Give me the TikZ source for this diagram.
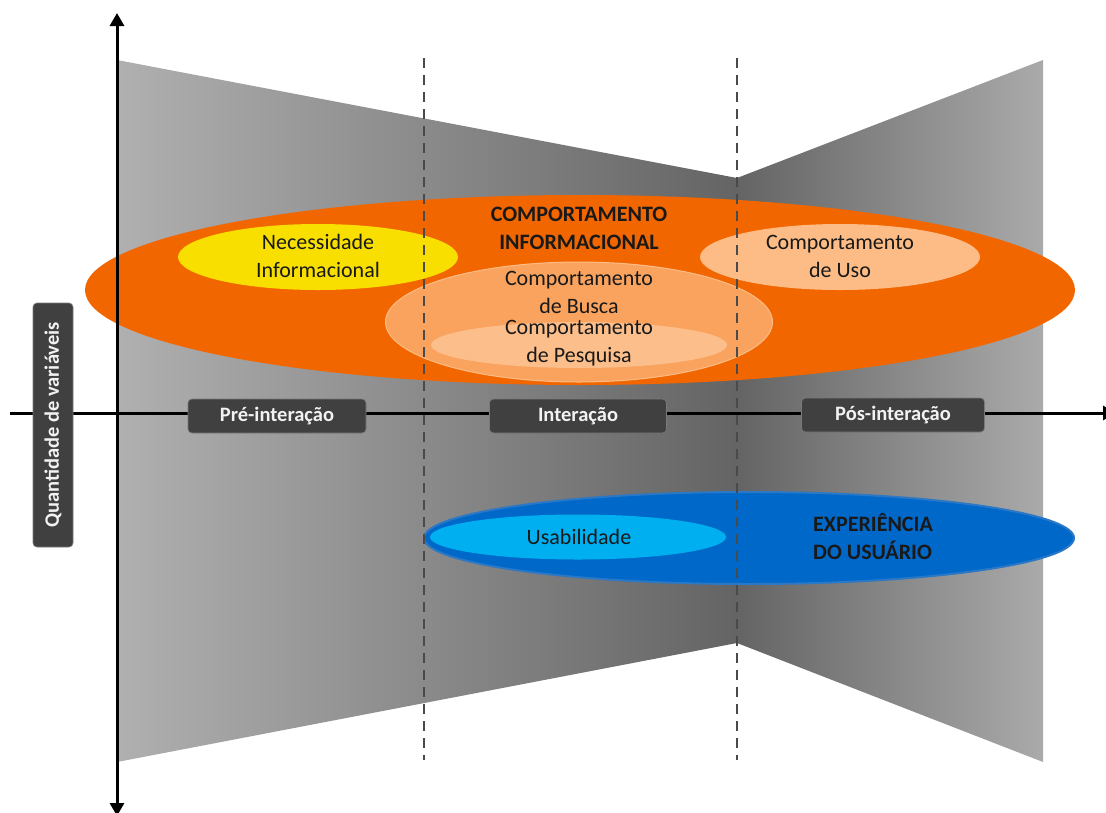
\documentclass[tikz,border=0pt]{standalone}
\usepackage{fontspec}
\setmainfont{Carlito}
\usetikzlibrary{arrows.meta,shapes.geometric}

\definecolor{panelLight}{HTML}{B0B0B0}
\definecolor{panelDark}{HTML}{646464}
\definecolor{panelLightR}{HTML}{AAAAAA}
\definecolor{infoOrange}{HTML}{F26600}
\definecolor{needYellow}{HTML}{F9DF00}
\definecolor{useOrange}{HTML}{FDBC86}
\definecolor{searchOrange}{HTML}{F9A35E}
\definecolor{queryOrange}{HTML}{FCBE8A}
\definecolor{uxBlue}{HTML}{0068C9}
\definecolor{uxBorder}{HTML}{2B78C6}
\definecolor{usabBlue}{HTML}{00AFF0}
\definecolor{tagGray}{HTML}{404040}
\definecolor{tagText}{HTML}{F2F2F2}
\definecolor{phaseGray}{HTML}{4A4A4A}

\tikzset{
  blob/.style={ellipse, inner sep=0pt, draw=none},
  txt/.style={align=center, font=\fontsize{22}{28}\selectfont, text=black!90},
  boldtxt/.style={txt, font=\fontsize{22}{28}\selectfont\bfseries},
  tag/.style={fill=tagGray, draw=tagGray!70!white, line width=0.6pt, rounded corners=4pt,
              text=tagText, font=\fontsize{20.5}{26}\selectfont\bfseries, inner sep=0pt},
  phase/.style={draw=phaseGray, line width=2.2pt, dash pattern=on 10pt off 7pt},
  axis/.style={draw=black, line width=3pt, -{Triangle[width=14pt,length=13pt]}}
}

\begin{document}
\begin{tikzpicture}[x=1pt,y=-1pt]
\useasboundingbox (0,0) rectangle (1106,812);

% two panels that narrow towards the interaction boundary
\shade[left color=panelLight, right color=panelDark]
  (117,60) -- (737,178) -- (737,643) -- (117,762) -- cycle;
\shade[left color=panelDark, right color=panelLightR]
  (737,178) -- (1043,60) -- (1043,762) -- (737,643) -- cycle;

% information behaviour
\node[blob, fill=infoOrange, minimum width=990pt, minimum height=190pt] (info) at (580,290) {};
\node[blob, fill=needYellow, minimum width=280pt, minimum height=66pt] (need) at (318,257) {};
\node[blob, fill=useOrange, minimum width=280pt, minimum height=66pt] (use) at (840,257) {};
\node[blob, fill=searchOrange, draw=useOrange, line width=1pt, minimum width=387pt, minimum height=120pt] (search) at (579,322) {};
\node[blob, fill=queryOrange, minimum width=296pt, minimum height=46pt] (query) at (579,345) {};

% user experience
\node[blob, fill=uxBlue, draw=uxBorder, line width=2pt, minimum width=650pt, minimum height=92pt] (ux) at (749,538) {};
\node[blob, fill=usabBlue, minimum width=296pt, minimum height=45pt] (usab) at (578,537) {};

% texts
\node[boldtxt] (infoT) at (579,228) {COMPORTAMENTO\\INFORMACIONAL};
\node[txt] (needT) at (318,256) {Necessidade\\Informacional};
\node[txt] (useT) at (840,256) {Comportamento\\de Uso};
\node[txt] (searchT) at (579,292) {Comportamento\\de Busca};
\node[txt] (queryT) at (579,343) {Comportamento\\de Pesquisa};
\node[txt] (usabT) at (579,537) {Usabilidade};
\node[boldtxt, align=left] (uxT) at (873,537) {EXPERIÊNCIA\\DO USUÁRIO};

% phase boundaries
\coordinate (b1top) at (424,58);
\coordinate (b1bot) at (424,760);
\coordinate (b2top) at (737,58);
\coordinate (b2bot) at (737,760);
\draw[phase] (b1top) -- (b1bot);
\draw[phase] (b2top) -- (b2bot);

% axes
\coordinate (origin) at (117,413);
\coordinate (ytop) at (117,13);
\coordinate (ybot) at (117,816);
\coordinate (xleft) at (10,413);
\coordinate (xright) at (1116,413);
\draw[axis] (origin) -- (ytop);
\draw[axis] (origin) -- (ybot);
\draw[axis] (xleft) -- (xright);

% phase labels
\node[tag, minimum width=178pt, minimum height=34pt] (pre) at (277,416) {Pré-interação};
\node[tag, minimum width=177pt, minimum height=34pt] (inter) at (578,416) {Interação};
\node[tag, minimum width=183pt, minimum height=34pt] (pos) at (893,415) {Pós-interação};
\node[tag, rotate=90, minimum width=244pt, minimum height=40pt] (qty) at (53,425) {Quantidade de variáveis};
\end{tikzpicture}
\end{document}
